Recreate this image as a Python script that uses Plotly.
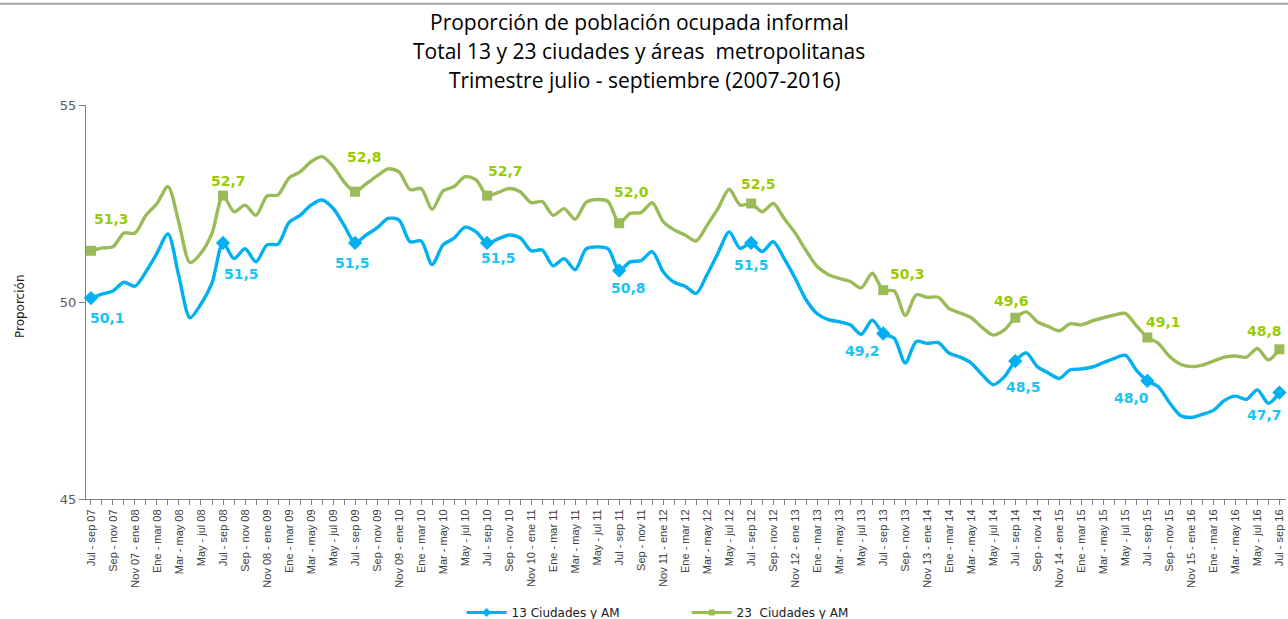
import plotly.graph_objects as go

months = ["Jul - sep", "Ago - oct", "Sep - nov", "Oct - dic", "Nov - ene", "Dic - feb",
          "Ene - mar", "Feb - abr", "Mar - may", "Abr - jun", "May - jul", "Jun - ago"]

# 109 rolling quarters: Jul-sep 07 ... Jul-sep 16
categories = []
for k in range(109):
    m = k % 12
    y = 7 + (k + 6) // 12
    name = months[m]
    if name.startswith("Nov"):
        label = f"Nov {y:02d} - ene {y+1:02d}"
    elif name.startswith("Dic"):
        label = f"Dic {y:02d} - feb {y+1:02d}"
    else:
        label = f"{name} {y:02d}"
    categories.append(label)

ciudades13 = [50.1, 50.2, 50.28, 50.5, 50.4, 50.77, 51.24, 51.73, 50.64, 49.6,
              49.95, 50.48, 51.5, 51.1, 51.35, 51.02, 51.45, 51.47, 52.02, 52.2,
              52.46, 52.59, 52.38, 51.95, 51.5, 51.7, 51.88, 52.12, 52.08, 51.53,
              51.55, 50.95, 51.45, 51.62, 51.9, 51.78, 51.5, 51.6, 51.7, 51.63,
              51.3, 51.32, 50.92, 51.1, 50.82, 51.35, 51.4, 51.35, 50.8, 51.02,
              51.05, 51.28, 50.77, 50.5, 50.4, 50.22, 50.7, 51.25, 51.78, 51.36,
              51.5, 51.28, 51.53, 51.1, 50.6, 50.05, 49.7, 49.55, 49.5, 49.42,
              49.18, 49.54, 49.2, 49.08, 48.45, 49.0, 48.95, 48.97, 48.7, 48.6,
              48.45, 48.15, 47.9, 48.1, 48.5, 48.71, 48.36, 48.2, 48.06, 48.28,
              48.3, 48.35, 48.46, 48.57, 48.65, 48.27, 48.0, 47.85, 47.45, 47.12,
              47.07, 47.15, 47.25, 47.5, 47.61, 47.53, 47.77, 47.43, 47.7]

ciudades23 = [51.3, 51.37, 51.4, 51.75, 51.75, 52.2, 52.5, 52.93, 52.0, 51.0,
              51.24, 51.75, 52.7, 52.29, 52.46, 52.2, 52.69, 52.72, 53.15, 53.3,
              53.56, 53.69, 53.45, 53.05, 52.8, 53.0, 53.2, 53.38, 53.3, 52.85,
              52.88, 52.35, 52.82, 52.93, 53.18, 53.1, 52.7, 52.78, 52.88, 52.8,
              52.52, 52.55, 52.2, 52.37, 52.1, 52.53, 52.6, 52.55, 52.0, 52.25,
              52.27, 52.52, 52.04, 51.83, 51.7, 51.55, 51.95, 52.38, 52.86, 52.46,
              52.5, 52.29, 52.5, 52.12, 51.75, 51.3, 50.9, 50.7, 50.6, 50.52,
              50.36, 50.73, 50.3, 50.28, 49.66, 50.18, 50.12, 50.12, 49.83, 49.72,
              49.6, 49.35, 49.16, 49.29, 49.6, 49.75, 49.5, 49.38, 49.27, 49.45,
              49.42, 49.52, 49.6, 49.67, 49.71, 49.4, 49.1, 48.95, 48.62, 48.42,
              48.36, 48.4, 48.5, 48.6, 48.63, 48.6, 48.82, 48.53, 48.8]

series_names = ["13 Ciudades y AM", "23  Ciudades y AM"]
title_lines = ["Proporción de población ocupada informal",
               "Total 13 y 23 ciudades y áreas  metropolitanas",
               "  Trimestre julio - septiembre (2007-2016)"]
y_title = "Proporción"

BLUE_LINE = "#00b0f0"
BLUE_TEXT = "#19c3f5"
GREEN_LINE = "#9bbb59"
GREEN_TEXT = "#99cc00"

xs = list(range(len(categories)))
mark_idx = [i for i in xs if i % 12 == 0]

def fmt(v):
    return f"{v:.1f}".replace(".", ",")

fig = go.Figure()

fig.add_trace(go.Scatter(
    x=xs, y=ciudades13, mode="lines", name=series_names[0],
    line=dict(color=BLUE_LINE, width=3.4, shape="spline", smoothing=0.8),
    showlegend=False, hoverinfo="skip"))
fig.add_trace(go.Scatter(
    x=xs, y=ciudades23, mode="lines", name=series_names[1],
    line=dict(color=GREEN_LINE, width=3.4, shape="spline", smoothing=0.8),
    showlegend=False, hoverinfo="skip"))

fig.add_trace(go.Scatter(
    x=mark_idx, y=[ciudades13[i] for i in mark_idx], mode="markers",
    marker=dict(symbol="diamond", size=11, color=BLUE_LINE),
    cliponaxis=False, showlegend=False, hoverinfo="skip"))
fig.add_trace(go.Scatter(
    x=mark_idx, y=[ciudades23[i] for i in mark_idx], mode="markers",
    marker=dict(symbol="square", size=10, color=GREEN_LINE),
    cliponaxis=False, showlegend=False, hoverinfo="skip"))

# legend-only entries
fig.add_trace(go.Scatter(
    x=[None], y=[None], mode="lines+markers", name=series_names[0],
    line=dict(color=BLUE_LINE, width=3),
    marker=dict(symbol="diamond", size=7, color=BLUE_LINE)))
fig.add_trace(go.Scatter(
    x=[None], y=[None], mode="lines+markers", name=series_names[1],
    line=dict(color=GREEN_LINE, width=3),
    marker=dict(symbol="square", size=6, color=GREEN_LINE)))

# label offsets in pixels (dx, dy) relative to the marker
blue_off = [(17, 20), (18, 31), (-3, 20), (11, 15), (9, 18),
            (0, 22), (-21, 17), (8, 26), (-16, 17), (-15, 22)]
green_off = [(21, -32), (5, -15), (9, -35), (18, -25), (12, -31),
             (7, -20), (24, -16), (-4, -17), (16, -15), (-15, -18)]

for k, i in enumerate(mark_idx):
    dx, dy = blue_off[k]
    fig.add_annotation(x=i, y=ciudades13[i], text="<b>" + fmt(ciudades13[i]) + "</b>",
                       showarrow=False, xshift=dx, yshift=-dy,
                       font=dict(family="DejaVu Sans", size=14, color=BLUE_TEXT))
    dx, dy = green_off[k]
    fig.add_annotation(x=i, y=ciudades23[i], text="<b>" + fmt(ciudades23[i]) + "</b>",
                       showarrow=False, xshift=dx, yshift=-dy,
                       font=dict(family="DejaVu Sans", size=14, color=GREEN_TEXT))

ticktext = [c if i % 2 == 0 else "" for i, c in enumerate(categories)]

fig.update_layout(
    width=1288, height=619,
    margin=dict(l=86, r=2, t=105, b=120, autoexpand=False),
    paper_bgcolor="white", plot_bgcolor="white",
    font=dict(family="Liberation Sans, Arial", color="#404040"),
    showlegend=True,
    legend=dict(orientation="h", x=0.313, xanchor="left", y=-0.325, yanchor="bottom",
                font=dict(family="DejaVu Sans", size=12, color="#202020"),
                entrywidth=170, entrywidthmode="pixels", itemwidth=40,
                bgcolor="rgba(0,0,0,0)"),
    xaxis=dict(range=[-0.45, 108.6], tickmode="array", tickvals=xs, ticktext=ticktext,
               tickangle=-90, tickfont=dict(size=11, color="#404040"),
               ticks="outside", ticklen=5, tickcolor="#808080",
               showline=True, linecolor="#808080", linewidth=1,
               showgrid=False, zeroline=False, automargin=False),
    yaxis=dict(range=[45, 55], tickvals=[45, 50, 55], ticktext=["45", "50", "55"],
               tickfont=dict(family="DejaVu Sans", size=13, color="#595959"),
               ticks="outside", ticklen=6, tickcolor="#808080",
               showline=True, linecolor="#808080", linewidth=1,
               showgrid=False, zeroline=False, automargin=False),
)

fig.add_annotation(text=y_title, xref="paper", yref="paper", x=-0.0549, y=0.49,
                   textangle=-90, showarrow=False, xanchor="center", yanchor="middle",
                   font=dict(family="DejaVu Sans", size=12, color="#202020"))

title_y = [1.211, 1.137, 1.063]
for txt, yy in zip(title_lines, title_y):
    fig.add_annotation(text=txt, xref="paper", yref="paper", x=0.461, y=yy,
                       xanchor="center", yanchor="middle", showarrow=False,
                       font=dict(family="Open Sans", size=21, color="#000000"))

fig.add_shape(type="line", xref="paper", yref="paper", x0=-0.075, x1=1.01,
              y0=1.257, y1=1.257, line=dict(color="#a6a6a6", width=2))

fig.write_html("out.html", config=dict(displayModeBar=False),
               post_script="document.body.style.margin='0';document.body.style.overflow='hidden';")
